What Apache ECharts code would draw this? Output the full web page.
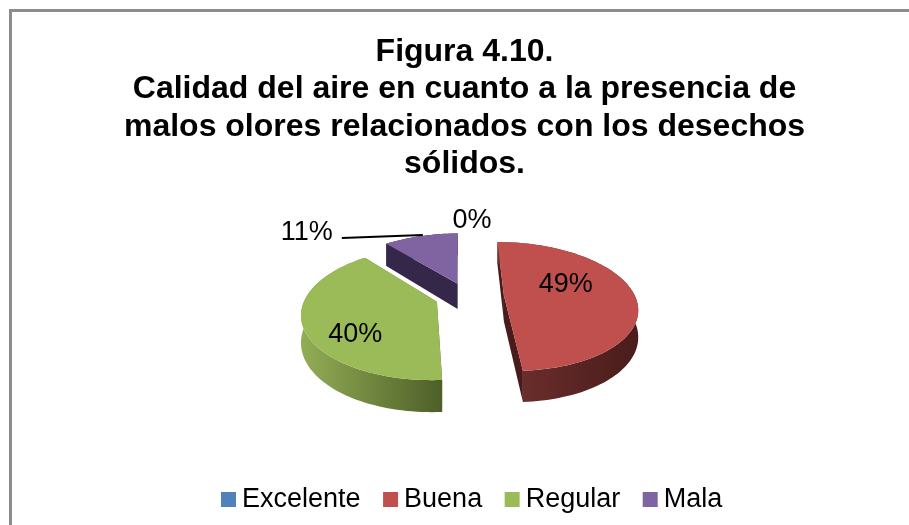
<!DOCTYPE html>
<html>
<head>
<meta charset="utf-8">
<style>
  html, body { margin: 0; padding: 0; background: #fff; }
  #chart { width: 909px; height: 525px; }
</style>
<script src="https://cdn.jsdelivr.net/npm/echarts@6/dist/echarts.min.js"></script>
</head>
<body>
<div id="chart"></div>
<script>
// datos
var categories = ['Excelente', 'Buena', 'Regular', 'Mala'];
var percents = [0, 49, 40, 11];
var colors = ['#4f81bd', '#c0504d', '#9bbb59', '#8064a2'];
var titleText = 'Figura 4.10.\nCalidad del aire en cuanto a la presencia de\nmalos olores relacionados con los desechos\nsólidos.';

// estilo de cada porcion: separacion, paredes y desplazamiento de la etiqueta
var explode = [0, 37, 32, 28];
var wallColors = [
    ['#2f4b6e', '#2f4b6e'],
    ['#70312f', '#491c1b'],
    ['#93ad56', '#4e5f28'],
    ['#35274a', '#35274a']
];
var labelFrac = [1, 0.46, 0.5, 1];
var labelShift = [[6, -22], [2, -10], [-17, 21], [-114, -4]];

// perspectiva del pastel 3D
var PIE_R = 131, CAM_D = 762, VP_X = 460, VP_Y = -69, PLANE_H = 365, CENTER_X = 7, DROP = 26;

function project(wx, wy, drop) {
    var s = CAM_D / (CAM_D - wy);
    return [VP_X + wx * s, VP_Y + (PLANE_H + drop) * s];
}

function sliceGeom(index) {
    var before = 0, total = 0;
    percents.forEach(function (p, i) {
        total += p;
        if (i < index) before += p;
    });
    var start = before / total * Math.PI * 2;
    var sweep = percents[index] / total * Math.PI * 2;
    var mid = start + sweep / 2;
    var ox = CENTER_X + explode[index] * Math.sin(mid);
    var oy = -explode[index] * Math.cos(mid);
    return {
        start: start,
        sweep: sweep,
        mid: mid,
        point: function (angle, frac, drop) {
            return project(ox + PIE_R * frac * Math.sin(angle), oy - PIE_R * frac * Math.cos(angle), drop);
        }
    };
}

function renderSlice(params, api) {
    var i = params.seriesIndex;
    var value = api.value(0);
    var g = sliceGeom(i);
    var children = [];

    if (value > 0) {
        var rimTop = [], rimBottom = [];
        var steps = Math.max(8, Math.round(value * 2));
        for (var k = 0; k <= steps; k++) {
            var a = g.start + g.sweep * k / steps;
            rimTop.push(g.point(a, 1, 0));
            rimBottom.push(g.point(a, 1, DROP));
        }
        var apex = g.point(0, 0, 0);
        var apexLow = g.point(0, 0, DROP);
        var wallFill = new echarts.graphic.LinearGradient(0, 0, 1, 0, [
            { offset: 0, color: wallColors[i][0] },
            { offset: 1, color: wallColors[i][1] }
        ]);
        // paredes rectas
        [rimTop[0], rimTop[steps]].forEach(function (edge, n) {
            var low = n === 0 ? rimBottom[0] : rimBottom[steps];
            children.push({
                type: 'polygon',
                shape: { points: [apex, edge, low, apexLow] },
                style: { fill: wallColors[i][1] }
            });
        });
        // pared curva
        children.push({
            type: 'polygon',
            shape: { points: rimTop.concat(rimBottom.slice().reverse()) },
            style: { fill: wallFill }
        });
        // cara superior
        children.push({
            type: 'polygon',
            shape: { points: [apex].concat(rimTop) },
            style: { fill: colors[i] }
        });
    }

    var rim = g.point(g.mid, labelFrac[i], 0);
    children.push({
        type: 'text',
        z2: 10,
        style: {
            x: rim[0] + labelShift[i][0],
            y: rim[1] + labelShift[i][1],
            text: value + '%',
            fill: '#000',
            font: '27px "Liberation Sans", Arial, sans-serif',
            align: 'center',
            verticalAlign: 'middle'
        }
    });

    // linea guia de la etiqueta exterior
    if (categories[i] === 'Mala') {
        var tip = g.point(g.mid, 1, 0);
        children.push({
            type: 'line',
            z2: 10,
            shape: { x1: tip[0] + 2, y1: tip[1] - 1, x2: tip[0] - 79, y2: tip[1] + 2 },
            style: { stroke: '#000', lineWidth: 2 }
        });
    }
    return { type: 'group', children: children };
}

var chart = echarts.init(document.getElementById('chart'), null, { renderer: 'canvas' });

chart.setOption({
    backgroundColor: '#fff',
    animation: false,
    title: {
        text: titleText,
        left: 459.5,
        top: 28,
        textAlign: 'center',
        textStyle: {
            fontFamily: '"Liberation Sans", Arial, sans-serif',
            fontWeight: 'bold',
            fontSize: 32,
            lineHeight: 37.5,
            color: '#000'
        }
    },
    legend: {
        data: categories,
        left: 216,
        top: 481,
        icon: 'rect',
        itemWidth: 15,
        itemHeight: 15,
        itemGap: 22.5,
        textStyle: {
            fontFamily: '"Liberation Sans", Arial, sans-serif',
            fontSize: 27,
            color: '#000',
            padding: [0, 0, 0, 1]
        }
    },
    graphic: [
        { type: 'line', shape: { x1: 9, y1: 10.5, x2: 909, y2: 10.5 }, style: { stroke: '#8c8c8c', lineWidth: 3 } },
        { type: 'line', shape: { x1: 10.5, y1: 9, x2: 10.5, y2: 525 }, style: { stroke: '#8c8c8c', lineWidth: 3 } }
    ],
    series: categories.map(function (name, i) {
        return {
            type: 'custom',
            name: name,
            coordinateSystem: 'none',
            silent: true,
            itemStyle: { color: colors[i] },
            data: [[percents[i]]],
            renderItem: renderSlice
        };
    })
});
</script>
</body>
</html>
